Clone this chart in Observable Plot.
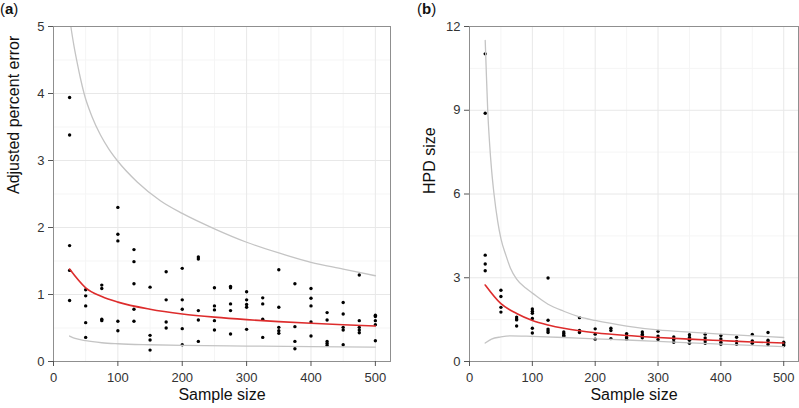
<!DOCTYPE html>
<html><head><meta charset="utf-8">
<script src="https://cdn.jsdelivr.net/npm/d3@7"></script>
<script src="https://cdn.jsdelivr.net/npm/@observablehq/plot@0.6"></script>
<style>
body{margin:0;background:#fff;}
#wrap{position:relative;width:799px;height:408px;font-family:"Liberation Sans",Arial,Helvetica,sans-serif;overflow:hidden;}
.panel{position:absolute;top:0;}
.tag{position:absolute;top:0;font-size:15px;line-height:17px;color:#111;}
</style></head>
<body><div id="wrap"></div>
<script>
// ---------- data ----------
const sampleSizes = [25,50,75,100,125,150,175,200,225,250,275,300,325,350,375,400,425,450,475,500];

// panel (a): adjusted percent error, one array of replicate values per sample size
const errorA = [
  [3.94,3.38,1.73,1.36,0.91],
  [1.07,0.98,0.83,0.58,0.36],
  [1.14,1.09,0.63,0.61],
  [2.30,1.90,1.80,0.60,0.46],
  [1.67,1.49,1.16,0.78,0.60],
  [1.11,0.39,0.32,0.17],
  [1.34,0.92,0.59,0.50],
  [1.39,0.92,0.78,0.49,0.25],
  [1.56,1.53,0.76,0.62,0.30],
  [1.10,0.83,0.77,0.61,0.47],
  [1.12,1.10,0.86,0.76,0.41],
  [1.04,0.92,0.85,0.81,0.48],
  [0.95,0.86,0.63,0.36],
  [1.37,0.81,0.51,0.46,0.42],
  [1.16,0.52,0.30,0.19],
  [1.09,0.945,0.83,0.59,0.38],
  [0.73,0.62,0.30,0.27,0.24],
  [0.88,0.71,0.51,0.47,0.25],
  [1.29,0.61,0.51,0.47,0.43],
  [0.69,0.67,0.61,0.55,0.31]
];
// panel (b): HPD size
const hpdB = [
  [11.02,8.89,3.81,3.49,3.25],
  [2.55,2.33,1.94,1.77],
  [1.59,1.52,1.49,1.27],
  [1.88,1.80,1.73,1.54,1.19,1.02],
  [2.99,1.48,1.16,1.10,1.04],
  [1.06,1.00,0.94,0.90],
  [1.57,1.11,1.04],
  [1.17,0.98,0.80],
  [1.19,1.11,0.82],
  [1.00,0.94,0.86,0.80],
  [1.06,0.98,0.92,0.85],
  [1.08,0.91,0.79],
  [0.88,0.79,0.69],
  [0.96,0.86,0.76,0.65],
  [0.98,0.84,0.73,0.65],
  [0.93,0.81,0.69,0.62],
  [0.87,0.72,0.62],
  [0.97,0.74,0.65],
  [1.04,0.76,0.69,0.61],
  [0.69,0.63,0.57]
];

// fitted mean (red) and bounds (grey)
const redA_n   = [25,50,75,100,150,200,250,300,350,400,450,500];
const redA_v   = [1.38,1.10,0.97,0.886,0.78,0.71,0.662,0.625,0.595,0.57,0.548,0.53];
const upA_n    = [25,27,32,37,42,47.5,60,73,86,99,130,166,200,250,300,350,400,450,500];
const upA_v    = [5.15,5.0,4.7,4.45,4.22,4.0,3.65,3.38,3.17,3.0,2.68,2.40,2.21,1.98,1.78,1.62,1.48,1.38,1.28];
const loA_n    = [25,35,50,75,100,150,200,300,400,500];
const loA_v    = [0.38,0.34,0.31,0.28,0.265,0.25,0.24,0.23,0.222,0.215];

const redB_n   = [25,50,75,100,125,150,175,200,250,300,350,400,450,500];
const redB_v   = [2.74,2.07,1.72,1.47,1.31,1.19,1.10,1.03,0.93,0.86,0.80,0.75,0.70,0.66];
const upB_n    = [25,27,29,32,35,39,45,50,58,65,75,90,100,125,150,175,200,250,300,350,400,450,500];
const upB_v    = [11.5,10.2,9.0,7.8,6.9,6.0,5.0,4.4,3.8,3.35,2.95,2.62,2.45,2.05,1.80,1.60,1.47,1.27,1.13,1.05,0.98,0.92,0.86];
const loB_n    = [25,35,50,65,100,150,200,250,300,400,500];
const loB_v    = [0.66,0.80,0.88,0.92,0.90,0.86,0.81,0.77,0.72,0.62,0.53];

const xMajor = [0,100,200,300,400,500];
const xMinor = [50,150,250,350,450];
const yMajorA = [0,1,2,3,4,5];
const yMinorA = [0.5,1.5,2.5,3.5,4.5];
const yMajorB = [0,3,6,9,12];
const yMinorB = [1.5,4.5,7.5,10.5];

// ---------- drawing ----------
const flat = (groups) => groups.flatMap((g, i) => g.map(v => ({n: sampleSizes[i], v})));
const zipc = (ns, vs) => ns.map((n, i) => ({n, v: vs[i]}));
const fmt = d => String(d);

function panel(o) {
  return Plot.plot({
    width: o.width, height: 408,
    marginLeft: o.marginLeft, marginRight: o.marginRight, marginTop: 26, marginBottom: 47,
    style: {fontFamily: '"Liberation Sans", Arial, Helvetica, sans-serif', background: "#fff"},
    x: {domain: [0, 523.5]},
    y: {domain: o.yDomain},
    marks: [
      Plot.ruleX(xMinor, {stroke: "#f5f5f5"}),
      Plot.ruleY(o.yMinor, {stroke: "#f5f5f5"}),
      Plot.ruleX(xMajor, {stroke: "#e8e8e8"}),
      Plot.ruleY(o.yMajor, {stroke: "#e8e8e8"}),
      Plot.dot(flat(o.points), {x: "n", y: "v", r: 1.7, fill: "#000", stroke: null}),
      Plot.line(zipc(o.up[0], o.up[1]), {x: "n", y: "v", stroke: "#c4c4c4", strokeWidth: 1.3, curve: "monotone-x", clip: true}),
      Plot.line(zipc(o.lo[0], o.lo[1]), {x: "n", y: "v", stroke: "#c4c4c4", strokeWidth: 1.3, curve: "monotone-x", clip: true}),
      Plot.line(zipc(o.red[0], o.red[1]), {x: "n", y: "v", stroke: "#dd2c2c", strokeWidth: 1.6, curve: "monotone-x", clip: true}),
      Plot.frame({stroke: "#8f8f8f"}),
      Plot.axisX(xMajor, {tickSize: 5, tickPadding: 6, fontSize: 13, stroke: "#555", fill: "#333", tickFormat: fmt, label: null}),
      Plot.axisY(o.yMajor, {tickSize: 5, tickPadding: 4, fontSize: 13, stroke: "#555", fill: "#333", tickFormat: fmt, label: null}),
      Plot.text([o.ylabel], {frameAnchor: "left", dx: -40, rotate: -90, fontSize: 16, fill: "#111"}),
      Plot.text(["Sample size"], {frameAnchor: "bottom", dy: 38, fontSize: 16, fill: "#111"})
    ]
  });
}

const wrap = document.getElementById("wrap");

const pa = panel({width: 400, marginLeft: 53, marginRight: 10, yDomain: [0, 5], yMajor: yMajorA, yMinor: yMinorA,
  points: errorA, red: [redA_n, redA_v], up: [upA_n, upA_v], lo: [loA_n, loA_v], ylabel: "Adjusted percent error"});
pa.classList.add("panel"); pa.style.left = "0px";
wrap.appendChild(pa);

const pb = panel({width: 399, marginLeft: 69, marginRight: 1, yDomain: [0, 12], yMajor: yMajorB, yMinor: yMinorB,
  points: hpdB, red: [redB_n, redB_v], up: [upB_n, upB_v], lo: [loB_n, loB_v], ylabel: "HPD size"});
pb.classList.add("panel"); pb.style.left = "400px";
wrap.appendChild(pb);

const ta = document.createElement("div");
ta.className = "tag"; ta.style.left = "0px"; ta.innerHTML = "(<b>a</b>)";
wrap.appendChild(ta);
const tb = document.createElement("div");
tb.className = "tag"; tb.style.left = "417px"; tb.innerHTML = "(<b>b</b>)";
wrap.appendChild(tb);
</script>
</body></html>
